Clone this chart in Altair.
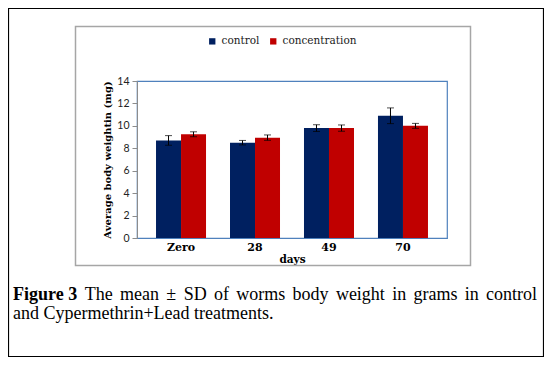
import altair as alt
import pandas as pd

# ---- data ----
days = ["Zero", "28", "49", "70"]
series = ["control", "concentration"]
control_mean = [8.7, 8.5, 9.8, 10.9]
control_sd = [0.43, 0.2, 0.3, 0.7]
conc_mean = [9.25, 8.95, 9.8, 10.0]
conc_sd = [0.22, 0.24, 0.28, 0.22]
y_ticks = [0, 2, 4, 6, 8, 10, 12, 14]
colors = ["#002060", "#C00000"]

caption_bold = "Figure 3"
caption_line1 = ["The", "mean", "±", "SD", "of", "worms", "body", "weight", "in", "grams", "in", "control"]
caption_line2 = "and Cypermethrin+Lead treatments."

rows = []
for i, d in enumerate(days):
    rows.append({"day": d, "series": "control", "mean": control_mean[i],
                 "lo": control_mean[i] - control_sd[i], "hi": control_mean[i] + control_sd[i]})
    rows.append({"day": d, "series": "concentration", "mean": conc_mean[i],
                 "lo": conc_mean[i] - conc_sd[i], "hi": conc_mean[i] + conc_sd[i]})
df = pd.DataFrame(rows)

SERIF = "DejaVu Serif"
CAP_FONT = "Liberation Serif"
CAP_SIZE = 18

# plot area origin in page coords: (137, 81)
OX, OY = 137, 81

x_axis = alt.Axis(title="days", labelAngle=0, ticks=False, domainColor="#4F81BD",
                  labelFont=SERIF, labelFontWeight="bold", labelFontSize=11,
                  labelColor="black", labelPadding=3,
                  titleFont=SERIF, titleFontWeight="bold", titleFontSize=10.5,
                  titleColor="black", titlePadding=2)
y_axis = alt.Axis(title="Average body weightin (mg)", values=y_ticks,
                  grid=False, domainColor="#8C8C8C", tickColor="#8C8C8C", tickSize=5,
                  labelOverlap=False, labelFlush=False,
                  labelFont="Lato", labelFontSize=10.5, labelColor="#222222", labelPadding=3,
                  titleFont=SERIF, titleFontWeight="bold", titleFontSize=10,
                  titleColor="black", titlePadding=4)
x_scale = alt.Scale(paddingInner=0.324, paddingOuter=0.257)
y_scale = alt.Scale(domain=[0, 14], nice=False)


def xenc():
    return alt.X("day:N", sort=days, scale=x_scale, axis=x_axis)


def xoenc():
    return alt.XOffset("series:N", sort=series, scale=alt.Scale(paddingInner=0, paddingOuter=0))


bars = alt.Chart(df).mark_bar(size=25).encode(
    x=xenc(),
    xOffset=xoenc(),
    y=alt.Y("mean:Q", scale=y_scale, axis=y_axis),
    color=alt.Color("series:N", sort=series,
                    scale=alt.Scale(domain=series, range=colors),
                    legend=alt.Legend(title=None, orient="none", direction="horizontal",
                                      legendX=70, legendY=-45, symbolType="square",
                                      symbolSize=40, symbolStrokeWidth=0,
                                      labelFont=SERIF, labelFontSize=10.5, labelColor="#222222",
                                      columnPadding=8, symbolOffset=0)),
)

err = alt.Chart(df).mark_rule(color="black", strokeWidth=1).encode(
    x=xenc(), xOffset=xoenc(),
    y=alt.Y("lo:Q", scale=y_scale, axis=y_axis), y2="hi:Q")
cap_lo = alt.Chart(df).mark_tick(color="black", thickness=1, size=7).encode(
    x=xenc(), xOffset=xoenc(),
    y=alt.Y("lo:Q", scale=y_scale, axis=y_axis))
cap_hi = alt.Chart(df).mark_tick(color="black", thickness=1, size=7).encode(
    x=xenc(), xOffset=xoenc(),
    y=alt.Y("hi:Q", scale=y_scale, axis=y_axis))

blank = alt.Data(values=[{"a": 1}])


def frame(x1, y1, x2, y2, color, width):
    return alt.Chart(blank).mark_rect(fillOpacity=0, stroke=color, strokeWidth=width).encode(
        x=alt.value(x1 - OX), x2=alt.value(x2 - OX), y=alt.value(y1 - OY), y2=alt.value(y2 - OY))


outer = frame(8.5, 8.5, 543.5, 356.5, "black", 1.2)
inner = frame(75.5, 26.5, 470.5, 265.5, "#A6A6A6", 1.5)

# ---- justified caption: approximate Times advance widths (per 1000 em) ----
times_w = {" ": 250, "a": 444, "b": 500, "c": 444, "d": 500, "e": 444, "f": 333, "g": 500,
           "h": 500, "i": 278, "l": 278, "m": 778, "n": 500, "o": 500, "r": 333, "s": 389,
           "t": 278, "w": 722, "y": 500, "S": 556, "D": 722, "T": 611, "±": 564}
times_bold_w = {"F": 611, "i": 278, "g": 500, "u": 556, "r": 444, "e": 444, " ": 250, "3": 500}


def wlen(word, table):
    return sum(table.get(ch, 500) for ch in word) * CAP_SIZE / 1000.0


line_left, line_right, base1, base2 = 13, 537, 300, 319
widths = [wlen(caption_bold, times_bold_w)] + [wlen(w, times_w) for w in caption_line1]
gap = (line_right - line_left - sum(widths)) / len(caption_line1)
positions = []
cur = line_left
for wd in widths:
    positions.append(cur)
    cur += wd + gap

cap_layers = [
    alt.Chart(blank).mark_text(text=caption_bold, font=CAP_FONT, fontSize=CAP_SIZE,
                               fontWeight="bold", align="left", baseline="alphabetic",
                               color="black").encode(x=alt.value(positions[0] - OX),
                                                     y=alt.value(base1 - OY))
]
for w, xx in zip(caption_line1, positions[1:]):
    cap_layers.append(alt.Chart(blank).mark_text(text=w, font=CAP_FONT, fontSize=CAP_SIZE,
                                                 align="left", baseline="alphabetic",
                                                 color="black").encode(
        x=alt.value(xx - OX), y=alt.value(base1 - OY)))
cap_layers.append(alt.Chart(blank).mark_text(text=caption_line2, font=CAP_FONT, fontSize=CAP_SIZE,
                                             align="left", baseline="alphabetic",
                                             color="black").encode(
    x=alt.value(line_left - OX), y=alt.value(base2 - OY)))

chart = alt.layer(outer, inner, bars, err, cap_lo, cap_hi, *cap_layers).properties(
    width=310, height=157,
    autosize=alt.AutoSizeParams(type="none"),
    padding={"left": 129, "top": 73, "right": 97, "bottom": 119},
    background="white",
).configure_view(stroke="#4F81BD", strokeWidth=1.2)

chart.save("out.html", embed_options={"renderer": "svg", "actions": False})
